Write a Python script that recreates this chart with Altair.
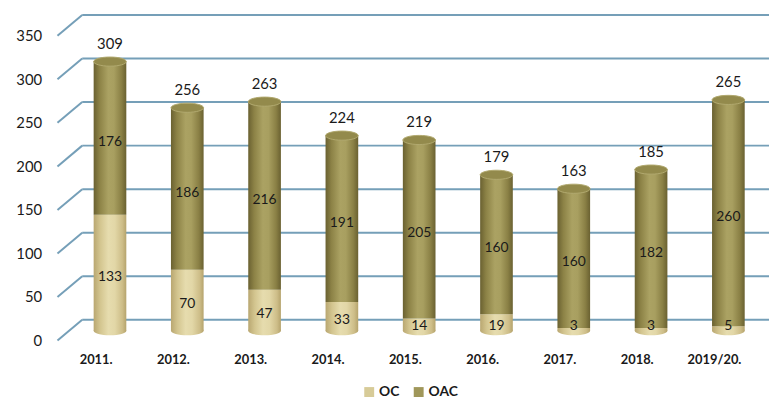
import altair as alt
import pandas as pd

years = ["2011.", "2012.", "2013.", "2014.", "2015.", "2016.", "2017.", "2018.", "2019/20."]
oc = [133, 70, 47, 33, 14, 19, 3, 3, 5]
oac = [176, 186, 216, 191, 205, 160, 160, 182, 260]
totals = [309, 256, 263, 224, 219, 179, 163, 185, 265]
ticks = [0, 50, 100, 150, 200, 250, 300, 350]
series = ["OC", "OAC"]

W, H = 703, 308
GRID = "#759fb8"

bars = pd.DataFrame({
    "year": years,
    "oc": oc,
    "oac": oac,
    "total": totals,
    "zero": [0] * len(years),
    "oc_lab": [max(v / 2, 10) for v in oc],
    "oac_lab": [a + b / 2 for a, b in zip(oc, oac)],
    "oac_end": [a + b for a, b in zip(oc, oac)],
})
grid = pd.DataFrame({"tick": ticks})
leg = pd.DataFrame({"series": series, "v": [0, 0], "year": [years[0], years[0]]})

def grad(stops):
    return alt.LinearGradient(
        gradient="linear", x1=0, x2=1, y1=0, y2=0,
        stops=[alt.GradientStop(offset=o, color=c) for o, c in stops],
    )

oac_fill = grad([(0, "#6a6131"), (0.18, "#8c8246"), (0.45, "#aba263"), (0.62, "#a89f60"), (0.85, "#8a8045"), (1, "#6a6131")])
oc_fill = grad([(0, "#b9a771"), (0.2, "#d3c58f"), (0.45, "#e6dcae"), (0.65, "#e2d7a7"), (0.88, "#cdbd88"), (1, "#b5a36c")])

xenc = alt.X("year:N", sort=years, scale=alt.Scale(paddingInner=0, paddingOuter=0),
             axis=alt.Axis(labelAngle=0, labelPadding=23, labelOffset=-14, domain=False, ticks=False,
                           labelFont="Lato", labelFontSize=13, labelFontWeight="bold",
                           labelColor="#1a1a1a", title=None, grid=False))
yscale = alt.Scale(domain=[0, 350], nice=False, zero=True)
yaxis = alt.Axis(values=ticks, labelPadding=30, labelOffset=10, domain=False, ticks=False, grid=False,
                 labelFont="Lato", labelFontSize=15, labelColor="#1a1a1a", title=None)

back = alt.Chart(grid).mark_rule(color=GRID, strokeWidth=2, yOffset=-11).encode(
    y=alt.Y("tick:Q", scale=yscale, axis=yaxis),
    x=alt.value(11), x2=alt.value(W + 10),
)
diag = alt.Chart(grid).mark_rule(color=GRID, strokeWidth=2, yOffset=10, y2Offset=-11).encode(
    y=alt.Y("tick:Q", scale=yscale),
    y2=alt.Y2("tick"),
    x=alt.value(-14), x2=alt.value(11),
)

ell = "M -1 0 A 1 0.28 0 1 0 1 0 A 1 0.28 0 1 0 -1 0 Z"

bottom_ell = alt.Chart(bars).mark_point(shape=ell, size=33 * 33, filled=True, fill=oc_fill, opacity=1).encode(
    x=xenc, y=alt.Y("zero:Q", scale=yscale)
)
bar_oc = alt.Chart(bars).mark_bar(size=33, fill=oc_fill).encode(
    x=xenc, y=alt.Y("zero:Q", scale=yscale), y2="oc:Q"
)
bar_oac = alt.Chart(bars).mark_bar(size=33, fill=oac_fill).encode(
    x=xenc, y=alt.Y("oc:Q", scale=yscale), y2="oac_end:Q"
)
top_ell = alt.Chart(bars).mark_point(shape=ell, size=33 * 33, filled=True, fill="#938a4c",
                                     stroke="#b1a96f", strokeWidth=1, opacity=1).encode(
    x=xenc, y=alt.Y("total:Q", scale=yscale)
)

txt_style = dict(font="Lato", fontSize=14, color="#1a1a1a", baseline="middle")
lab_total = alt.Chart(bars).mark_text(dy=-18, **{**txt_style, "fontSize": 15}).encode(
    x=xenc, y=alt.Y("total:Q", scale=yscale), text="total:Q"
)
lab_oc = alt.Chart(bars).mark_text(dy=4, **txt_style).encode(
    x=xenc, y=alt.Y("oc_lab:Q", scale=yscale), text="oc:Q"
)
lab_oac = alt.Chart(bars).mark_text(dy=4, **txt_style).encode(
    x=xenc, y=alt.Y("oac_lab:Q", scale=yscale), text="oac:Q"
)

legend_layer = alt.Chart(leg).mark_point(opacity=0, filled=True, size=0).encode(
    x=xenc, y=alt.Y("v:Q", scale=yscale),
    color=alt.Color("series:N", sort=series,
                    scale=alt.Scale(domain=series, range=["#d7cb98", "#a0975a"]),
                    legend=alt.Legend(orient="none", legendX=294, legendY=363, direction="horizontal",
                                      title=None, symbolType="square", symbolSize=100, symbolOpacity=1,
                                      symbolStrokeWidth=0, labelFont="Lato", labelFontSize=14,
                                      labelFontWeight="bold", labelColor="#1a1a1a", labelOffset=3,
                                      columnPadding=12)),
)

chart = alt.layer(
    back, diag, bottom_ell, bar_oc, bar_oac, top_ell, lab_total, lab_oc, lab_oac, legend_layer
).properties(
    width=W, height=H,
    autosize=alt.AutoSizeParams(type="none"),
    padding={"left": 64, "top": 16, "right": 2, "bottom": 70},
    background="white",
).configure_view(stroke=None)

chart.save("out.html", embed_options={"renderer": "svg", "actions": False})
